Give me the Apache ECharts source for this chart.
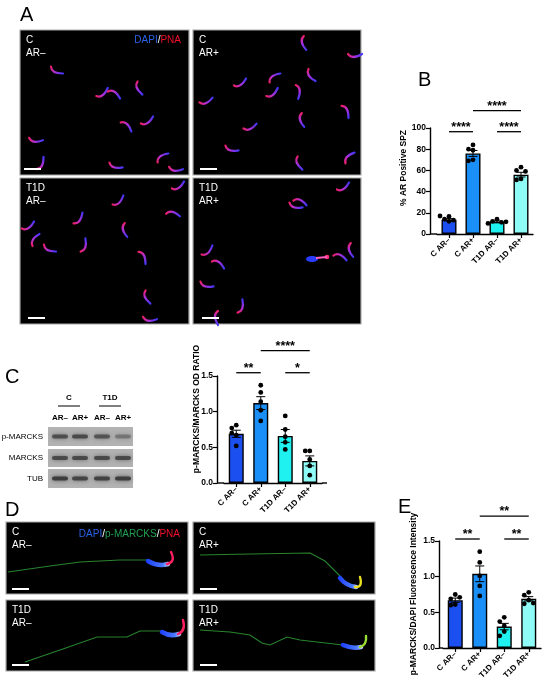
<!DOCTYPE html>
<html>
<head>
<meta charset="utf-8">
<style>html,body{margin:0;padding:0;background:#fff;}#main{width:550px;height:687px;}</style>
<script src="https://cdn.jsdelivr.net/npm/echarts@6.0.0/dist/echarts.min.js"></script>
</head>
<body>
<div id="main"></div>
<script>
// ---------------- DATA ----------------
const categories = ['C AR–', 'C AR+', 'T1D AR–', 'T1D AR+'];

// Panel B: % AR positive SPZ
const bTicks = [0, 20, 40, 60, 80, 100];
const bMeans = [13.5, 76, 11.5, 56];
const bSem = [1.0, 2.8, 0.8, 2.2];
const bPoints = [[16.5, 14, 13, 12, 17], [84, 79, 80, 70, 69], [14, 12, 11, 10, 11.5], [63, 60, 59, 52, 51]];
const bSig = [[0, 1, 96.5, '****'], [2, 3, 96.5, '****'], [1, 3, 116.3, '****']];

// Panel C: p-MARCKS/MARCKS OD ratio
const cTicks = [0, 0.5, 1.0, 1.5];
const cMeans = [0.69, 1.12, 0.66, 0.31];
const cSem = [0.05, 0.09, 0.09, 0.07];
const cPoints = [[0.81, 0.52, 0.77, 0.67, 0.70], [1.37, 1.27, 1.14, 1.02, 0.87], [0.94, 0.75, 0.65, 0.57, 0.47], [0.45, 0.45, 0.33, 0.24, 0.11]];
const cSig = [[0, 1, 1.546, '**'], [2, 3, 1.546, '*'], [1, 3, 1.855, '****']];

// Panel E: p-MARCKS/DAPI fluorescence intensity
const eTicks = [0, 0.5, 1.0, 1.5];
const eMeans = [0.67, 1.04, 0.30, 0.69];
const eSem = [0.03, 0.11, 0.045, 0.03];
const ePoints = [[0.75, 0.61, 0.69, 0.71, 0.60], [1.35, 1.20, 1.01, 0.87, 0.73], [0.43, 0.37, 0.31, 0.23, 0.17], [0.78, 0.74, 0.67, 0.62, 0.63]];
const eSig = [[0, 1, 1.528, '**'], [2, 3, 1.528, '**'], [1, 3, 1.85, '**']];

// Western blot labels
const blotGroups = ['C', 'T1D'];
const blotLanes = ['AR–', 'AR+', 'AR–', 'AR+'];
const blotRows = ['p-MARCKS', 'MARCKS', 'TUB'];

// ---------------- STYLE / LAYOUT ----------------
const FONT = '"Liberation Sans", Arial, Helvetica, sans-serif';
const barColors = ['#1c4ff0', '#1a8ff7', '#1ff0f0', '#8efbf6'];

const layouts = [
  {left: 437, top: 128, width: 96, height: 106, max: 100, interval: 20, offset: 7, dec: 0,
   name: '% AR Positive SPZ', nameX: 404, nameY: 168},
  {left: 224, top: 376, width: 98, height: 107, max: 1.5, interval: 0.5, offset: 7, dec: 1,
   name: 'p-MARCKS/MARCKS OD RATIO', nameX: 197, nameY: 409},
  {left: 443, top: 541, width: 98, height: 107, max: 1.5, interval: 0.5, offset: 4, dec: 1,
   name: 'p-MARCKS/DAPI Fluorescence Intensity', nameX: 413.5, nameY: 594}
];
const panels = [
  {means: bMeans, sem: bSem, points: bPoints, sig: bSig},
  {means: cMeans, sem: cSem, points: cPoints, sig: cSig},
  {means: eMeans, sem: eSem, points: ePoints, sig: eSig}
];

function swarm(vals, ppu) {
  const placed = [], out = [];
  const d = 4.5, cand = [0, -4.5, 4.5, -9, 9];
  vals.forEach(v => {
    const y = v * ppu;
    let dx = 0;
    for (const c of cand) {
      if (placed.every(p => Math.hypot(p.x - c, p.y - y) >= d)) { dx = c; break; }
    }
    placed.push({x: dx, y}); out.push(dx);
  });
  return out;
}

const grids = [], xAxes = [], yAxes = [], series = [];
layouts.forEach((L, g) => {
  const P = panels[g];
  grids.push({left: L.left, top: L.top, width: L.width, height: L.height, containLabel: false});
  xAxes.push({
    type: 'category', gridIndex: g, data: categories, boundaryGap: true,
    axisLine: {lineStyle: {color: '#000', width: 1.4}},
    axisTick: {show: true, alignWithLabel: true, length: 4, lineStyle: {color: '#000', width: 1.2}},
    axisLabel: {interval: 0, rotate: 45, margin: 5, color: '#000', fontSize: 8, fontWeight: 'bold', fontFamily: FONT},
    splitLine: {show: false}
  });
  yAxes.push({
    type: 'value', gridIndex: g, min: 0, max: L.max, interval: L.interval, offset: L.offset,
    axisLine: {show: true, lineStyle: {color: '#000', width: 1.4}},
    axisTick: {show: true, length: 4, lineStyle: {color: '#000', width: 1.2}},
    axisLabel: {margin: 4, color: '#000', fontSize: 8.5, fontWeight: 'bold', fontFamily: FONT,
                formatter: v => v.toFixed(L.dec)},
    splitLine: {show: false}
  });
  series.push({
    type: 'bar', xAxisIndex: g, yAxisIndex: g, barWidth: 15, z: 2,
    data: P.means.map((m, i) => ({value: m, itemStyle: {color: barColors[i], borderColor: '#000', borderWidth: 1.4}}))
  });
  series.push({
    type: 'custom', xAxisIndex: g, yAxisIndex: g, z: 3, clip: false,
    encode: {x: 0, y: 1},
    data: P.means.map((m, i) => [i, m, P.sem[i]]),
    renderItem: (params, api) => {
      const c = api.value(0), m = api.value(1), s = api.value(2);
      const t = api.coord([c, m + s]), b = api.coord([c, m - s]);
      const hw = 4.5, st = {stroke: '#000', lineWidth: 1};
      return {type: 'group', children: [
        {type: 'line', shape: {x1: t[0], y1: t[1], x2: b[0], y2: b[1]}, style: st},
        {type: 'line', shape: {x1: t[0] - hw, y1: t[1], x2: t[0] + hw, y2: t[1]}, style: st},
        {type: 'line', shape: {x1: b[0] - hw, y1: b[1], x2: b[0] + hw, y2: b[1]}, style: st}
      ]};
    }
  });
  const ppu = L.height / L.max;
  const pts = [];
  P.points.forEach((arr, i) => {
    const dxs = swarm(arr, ppu);
    arr.forEach((v, k) => pts.push([i, v, dxs[k]]));
  });
  series.push({
    type: 'custom', xAxisIndex: g, yAxisIndex: g, z: 4, clip: false,
    encode: {x: 0, y: 1},
    data: pts,
    renderItem: (params, api) => {
      const p = api.coord([api.value(0), api.value(1)]);
      return {type: 'circle', shape: {cx: p[0] + api.value(2), cy: p[1], r: 2.4}, style: {fill: '#000'}};
    }
  });
  series.push({
    type: 'custom', xAxisIndex: g, yAxisIndex: g, z: 4, clip: false,
    encode: {x: [0, 1], y: 2},
    data: P.sig.map(s => [s[0], s[1], s[2]]),
    renderItem: (params, api) => {
      const a = api.coord([api.value(0), api.value(2)]);
      const b = api.coord([api.value(1), api.value(2)]);
      return {type: 'group', children: [
        {type: 'line', shape: {x1: a[0], y1: a[1], x2: b[0], y2: b[1]}, style: {stroke: '#000', lineWidth: 1.3}},
        {type: 'text', style: {text: P.sig[params.dataIndex][3], x: (a[0] + b[0]) / 2, y: a[1] + 2,
          font: 'bold 12.5px ' + FONT, fill: '#000', align: 'center', verticalAlign: 'bottom',
          textAlign: 'center', textVerticalAlign: 'bottom'}}
      ]};
    }
  });
});

// ---------------- GRAPHIC (panel letters, image placeholders, blot) ----------------
const G = [];
const mctx = document.createElement('canvas').getContext('2d');
function tw(text, font) { mctx.font = font; return mctx.measureText(text).width; }
function txt(text, x, y, opt) {
  opt = opt || {};
  G.push({type: 'text', x: x, y: y, rotation: opt.rot || 0, silent: true, z: 10,
    style: {text: text, fill: opt.fill || '#000', font: opt.font || ('10px ' + FONT),
      textAlign: opt.align || 'left', textVerticalAlign: opt.va || 'top', lineHeight: opt.lh}});
}
function line(x1, y1, x2, y2, stroke, w) {
  G.push({type: 'line', silent: true, z: 10, shape: {x1, y1, x2, y2}, style: {stroke: stroke, lineWidth: w}});
}
function rightParts(parts, rx, y, font) {
  let x = rx;
  for (let i = parts.length - 1; i >= 0; i--) {
    const w = tw(parts[i][0], font);
    x -= w;
    txt(parts[i][0], x, y, {fill: parts[i][1], font: font});
  }
}

// panel letters
const LF = '20px ' + FONT;
txt('A', 20, 5, {font: LF});
txt('B', 418, 70, {font: LF});
txt('C', 5, 367, {font: LF});
txt('D', 5, 500, {font: LF});
txt('E', 398, 497, {font: LF});

// axis names
layouts.forEach(L => txt(L.name, L.nameX, L.nameY, {font: 'bold 8.5px ' + FONT, align: 'center', va: 'middle', rot: Math.PI / 2}));
// GraphPad style x-axis line joining offset y-axis
line(430, 234, 437, 234, '#000', 1.4);
line(217, 483, 224, 483, '#000', 1.4);
line(322, 483, 327, 483, '#000', 1.4);
line(439, 648, 443, 648, '#000', 1.4);

// image placeholders (microscopy)
const imgPanels = [
  [20, 30, 169, 145, 'C\nAR–'], [193, 30, 168, 145, 'C\nAR+'],
  [20, 178, 169, 146, 'T1D\nAR–'], [193, 178, 168, 146, 'T1D\nAR+'],
  [6, 522, 182, 72, 'C\nAR–'], [193, 522, 182, 72, 'C\nAR+'],
  [6, 600, 182, 71, 'T1D\nAR–'], [193, 600, 182, 71, 'T1D\nAR+']
];
imgPanels.forEach(p => {
  G.push({type: 'rect', silent: true, z: 5, shape: {x: p[0], y: p[1], width: p[2], height: p[3]},
    style: {fill: '#000', stroke: '#a8a8a8', lineWidth: 1.2}});
  txt(p[4], p[0] + 6, p[1] + 4, {fill: '#fff', font: '10px ' + FONT, lh: 12.5});
});
const sbars = [[24, 41, 169], [200, 217, 169], [28, 45, 318], [202, 219, 318],
               [12, 29, 589], [200, 217, 589], [12, 29, 665], [200, 217, 665]];
sbars.forEach(s => line(s[0], s[2], s[1], s[2], '#fff', 2));
const PF = '10px ' + FONT;
rightParts([['DAPI', '#2a62e6'], ['/', '#fff'], ['PNA', '#f0102a']], 181, 35, PF);
rightParts([['DAPI', '#2a62e6'], ['/', '#fff'], ['p-MARCKS', '#20a050'], ['/', '#fff'], ['PNA', '#f0102a']], 180, 529, PF);

// sperm cells (decorative image content)
const spermGrad = () => new echarts.graphic.LinearGradient(0, 0, 1, 0, [
  {offset: 0, color: '#ff1840'}, {offset: 0.45, color: '#b030d8'}, {offset: 1, color: '#2238ff'}]);
const spermA = [
  [57, 70, 30, 1], [102, 92, -35, 1], [114, 95, 30, -1], [140, 88, 70, 1], [147, 120, -30, 1], [126, 127, 40, -1],
  [36, 139, 10, 1], [40, 163, -60, 1], [116, 165, 20, 1], [163, 158, -40, -1], [176, 168, 10, 1],
  [305, 43, 80, 1], [355, 54, 0, 1], [240, 82, -30, 1], [275, 78, -40, -1], [312, 75, 60, 1], [272, 92, -35, 1],
  [297, 92, 80, -1], [206, 100, -20, 1], [250, 126, -20, 1], [345, 112, 60, -1], [303, 120, 80, 1],
  [300, 163, 70, 1], [350, 158, -50, -1], [232, 148, 20, 1],
  [178, 185, -30, 1], [118, 200, -40, 1], [173, 215, 10, -1], [78, 218, -50, 1], [126, 230, 80, 1],
  [28, 225, -30, 1], [36, 240, -60, -1], [50, 248, 30, 1], [83, 245, -70, 1], [142, 258, 60, -1],
  [148, 297, 70, 1], [150, 318, 10, 1],
  [343, 186, -30, 1], [296, 205, 20, 1], [300, 203, 20, -1], [207, 250, -40, 1], [218, 265, 30, -1],
  [207, 284, 20, 1], [240, 306, -70, 1], [218, 318, 90, 1], [340, 258, 20, -1], [352, 250, 80, 1]
];
spermA.forEach(s => {
  G.push({type: 'bezierCurve', silent: true, z: 6, x: s[0], y: s[1], rotation: -s[2] * Math.PI / 180,
    shape: {x1: -7, y1: 0, x2: 7, y2: 0, cpx1: -3, cpy1: 6 * s[3]},
    style: {stroke: spermGrad(), lineWidth: 2.2, lineCap: 'round', fill: null}});
});
// odd cell in T1D AR+
G.push({type: 'ellipse', silent: true, z: 6, shape: {cx: 312, cy: 259, rx: 6, ry: 3}, style: {fill: '#2a3cff'}});
line(316, 258, 327, 257, '#ff60c0', 2);
G.push({type: 'circle', silent: true, z: 6, shape: {cx: 327, cy: 257, r: 2.3}, style: {fill: '#ff3080'}});

// D panel single sperm
const dTails = [
  [[8, 572], [50, 566], [80, 562], [120, 560], [148, 560]],
  [[200, 555], [250, 554], [310, 553], [325, 561], [340, 576]],
  [[25, 662], [60, 650], [97, 637], [127, 637], [140, 631], [162, 631]],
  [[200, 630], [230, 632], [250, 635], [262, 643], [270, 645], [287, 637], [300, 640], [317, 642], [343, 645]]
];
dTails.forEach(t => G.push({type: 'polyline', silent: true, z: 6, shape: {points: t},
  style: {stroke: '#2f9a35', lineWidth: 1.1, fill: null, opacity: 0.85}}));
const headGrad = () => new echarts.graphic.LinearGradient(0, 0, 1, 0, [
  {offset: 0, color: '#1a3aff'}, {offset: 0.7, color: '#4a7aff'}, {offset: 1, color: '#e0e0ff'}]);
const dHeads = [
  [[148, 561, 168, 564, 158, 567], [167, 564, 171, 552, 176, 562], '#ff2060'],
  [[340, 578, 356, 587, 346, 586], [355, 587, 360, 577, 363, 588], '#e8e020'],
  [[162, 632, 179, 634, 170, 637], [178, 634, 183, 620, 186, 631], '#ff2060'],
  [[343, 645, 361, 647, 352, 649], [360, 647, 366, 636, 367, 645], '#9be030']
];
dHeads.forEach(h => {
  G.push({type: 'bezierCurve', silent: true, z: 6,
    shape: {x1: h[0][0], y1: h[0][1], x2: h[0][2], y2: h[0][3], cpx1: h[0][4], cpy1: h[0][5]},
    style: {stroke: headGrad(), lineWidth: 4.5, lineCap: 'round', fill: null}});
  G.push({type: 'bezierCurve', silent: true, z: 6,
    shape: {x1: h[1][0], y1: h[1][1], x2: h[1][2], y2: h[1][3], cpx1: h[1][4], cpy1: h[1][5]},
    style: {stroke: h[2], lineWidth: 2.4, lineCap: 'round', fill: null}});
});

// Western blot (panel C left)
const lanesX = [60, 80, 102, 123];
const BF = 'bold 8px ' + FONT;
txt(blotGroups[0], 69, 398, {font: BF, align: 'center', va: 'middle'});
txt(blotGroups[1], 110, 398, {font: BF, align: 'center', va: 'middle'});
line(58, 406, 80, 406, '#000', 1);
line(99, 406, 121, 406, '#000', 1);
blotLanes.forEach((l, i) => txt(l, lanesX[i], 418, {font: BF, align: 'center', va: 'middle'}));
const strips = [[427, 19], [449, 18], [469, 19]];
const bandOp = [[0.75, 0.8, 0.7, 0.4], [0.8, 0.8, 0.8, 0.8], [0.95, 0.85, 0.9, 0.95]];
strips.forEach((s, r) => {
  G.push({type: 'rect', silent: true, z: 5, shape: {x: 48, y: s[0], width: 85, height: s[1]},
    style: {fill: '#b2b2b2'}});
  lanesX.forEach((x, i) => G.push({type: 'rect', silent: true, z: 6,
    shape: {x: x - 8, y: s[0] + s[1] / 2 - 2, width: 16, height: 4, r: 2},
    style: {fill: '#3a3a3a', opacity: bandOp[r][i], shadowBlur: 4, shadowColor: '#555'}}));
  txt(blotRows[r], 43, s[0] + s[1] / 2, {font: '8px ' + FONT, align: 'right', va: 'middle'});
});

const chart = echarts.init(document.getElementById('main'), null, {renderer: 'canvas'});
chart.setOption({
  animation: false,
  backgroundColor: '#fff',
  textStyle: {fontFamily: FONT},
  grid: grids, xAxis: xAxes, yAxis: yAxes, series: series,
  graphic: {elements: G}
});
</script>
</body>
</html>
